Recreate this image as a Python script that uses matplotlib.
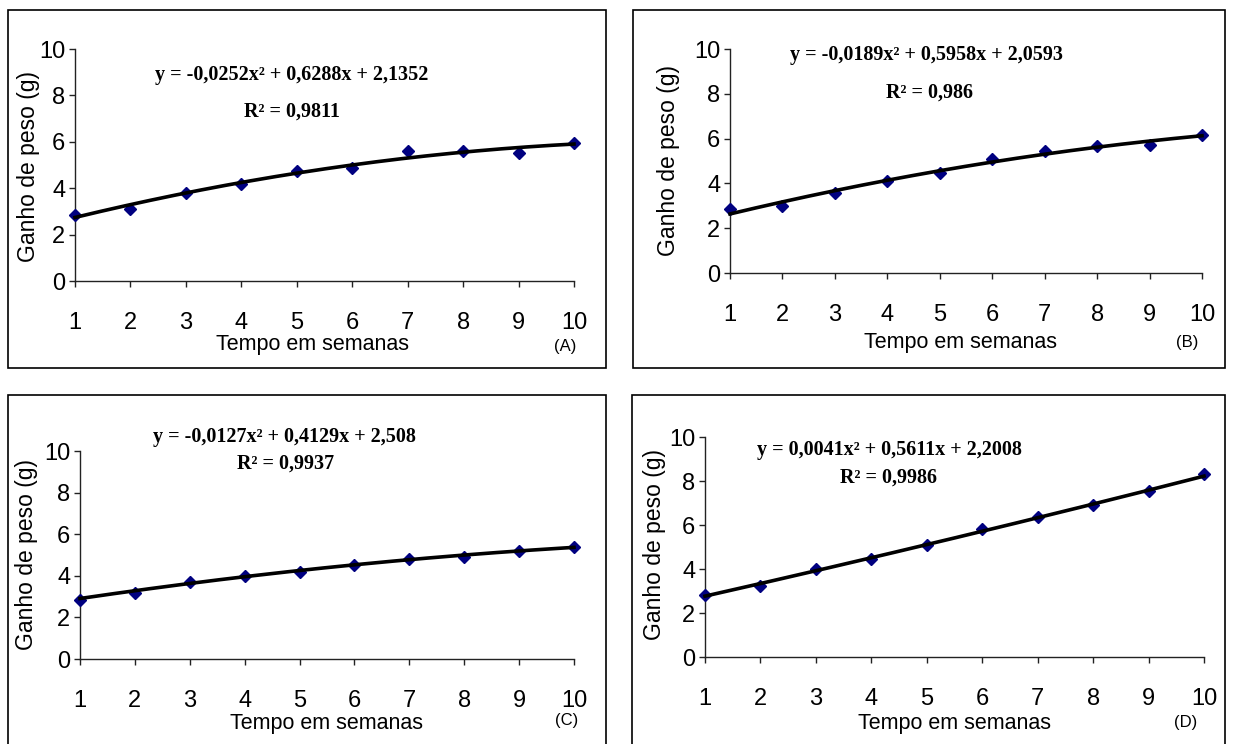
import numpy as np
import matplotlib
matplotlib.use('Agg')
import matplotlib.pyplot as plt
from matplotlib.patches import Rectangle

W, H = 1233, 744

semanas = [1, 2, 3, 4, 5, 6, 7, 8, 9, 10]
ganho_A = [2.85, 3.1, 3.8, 4.2, 4.75, 4.85, 5.6, 5.6, 5.5, 5.95]
ganho_B = [2.85, 3.0, 3.55, 4.1, 4.45, 5.1, 5.45, 5.65, 5.7, 6.15]
ganho_C = [2.85, 3.15, 3.7, 4.0, 4.2, 4.5, 4.8, 4.9, 5.2, 5.4]
ganho_D = [2.8, 3.25, 4.0, 4.45, 5.1, 5.8, 6.35, 6.9, 7.55, 8.3]

# coeficientes da linha de tendencia (a, b, c)
coef_A = (-0.0252, 0.6288, 2.1352)
coef_B = (-0.0189, 0.5958, 2.0593)
coef_C = (-0.0127, 0.4129, 2.508)
coef_D = (0.0041, 0.5611, 2.2008)

eq_A = 'y = -0,0252x² + 0,6288x + 2,1352'
eq_B = 'y = -0,0189x² + 0,5958x + 2,0593'
eq_C = 'y = -0,0127x² + 0,4129x + 2,508'
eq_D = 'y = 0,0041x² + 0,5611x + 2,2008'
r2_A = 'R² = 0,9811'
r2_B = 'R² = 0,986'
r2_C = 'R² = 0,9937'
r2_D = 'R² = 0,9986'

yticks = [0, 2, 4, 6, 8, 10]

plt.rcParams['font.family'] = ['Liberation Sans', 'DejaVu Sans']

fig = plt.figure(figsize=(W / 100, H / 100), dpi=100)


def fx(px):
	return px / W


def fy(py):
	return 1 - py / H


def painel(ganho, coef, eq, r2, letra, axbox, border, eqpos, r2pos, ylab, xlab, letpos):
	x0, x1, y0, y10 = axbox
	ax = fig.add_axes([fx(x0), fy(y0), fx(x1) - fx(x0), fy(y10) - fy(y0)])

	# borda do grafico
	bx0, by0, bx1, by1 = border
	fig.patches.append(Rectangle((fx(bx0), fy(by1)), fx(bx1) - fx(bx0), fy(by0) - fy(by1),
		transform=fig.transFigure, fill=False, edgecolor='black', linewidth=1.2, clip_on=False))

	a, b, c = coef
	xs = np.linspace(1, 10, 200)
	ax.plot(semanas, ganho, linestyle='none', marker='D', markersize=6.5,
		color='#000080', zorder=3, clip_on=False)
	ax.plot(xs, a * xs ** 2 + b * xs + c, color='black', linewidth=2.6, zorder=4, clip_on=False)

	ax.set_xlim(1, 10)
	ax.set_ylim(0, 10)
	ax.set_xticks(semanas)
	ax.set_yticks(yticks)
	for s in ['top', 'right']:
		ax.spines[s].set_visible(False)
	for s in ['left', 'bottom']:
		ax.spines[s].set_linewidth(1.0)
		ax.spines[s].set_color('#222222')
	ax.tick_params(axis='x', direction='out', length=4, width=1, pad=18, labelsize=17, colors='#222222')
	ax.tick_params(axis='y', direction='out', length=4, width=1, pad=3, labelsize=17, colors='#222222')
	ax.tick_params(labelcolor='black')

	fig.text(fx(eqpos[0]), fy(eqpos[1]), eq, ha='center', va='center',
		family='Liberation Serif', fontweight='bold', fontsize=14.5)
	fig.text(fx(r2pos[0]), fy(r2pos[1]), r2, ha='center', va='center',
		family='Liberation Serif', fontweight='bold', fontsize=14.5)
	fig.text(fx(ylab[0]), fy(ylab[1]), 'Ganho de peso (g)', ha='center', va='center',
		rotation=90, fontsize=16.5)
	fig.text(fx(xlab[0]), fy(xlab[1]), 'Tempo em semanas', ha='center', va='center', fontsize=15.5)
	fig.text(fx(letpos[0]), fy(letpos[1]), letra, ha='center', va='center', fontsize=12)


painel(ganho_A, coef_A, eq_A, r2_A, '(A)', (75, 574, 281, 49), (8, 10, 606, 368),
	(292, 75), (292, 112), (29, 167), (313, 345), (565, 347))
painel(ganho_B, coef_B, eq_B, r2_B, '(B)', (730, 1202, 273, 49), (633, 10, 1225, 368),
	(927, 55), (929, 93), (668, 160), (960, 343), (1187, 343))
painel(ganho_C, coef_C, eq_C, r2_C, '(C)', (80, 574, 659, 451), (8, 395, 606, 770),
	(284, 437), (286, 464), (27, 555), (327, 723), (567, 720))
painel(ganho_D, coef_D, eq_D, r2_D, '(D)', (705, 1204, 657, 437), (632, 395, 1225, 770),
	(889, 450), (889, 478), (654, 545), (954, 723), (1186, 722))

fig.savefig('out.png', dpi=100)
